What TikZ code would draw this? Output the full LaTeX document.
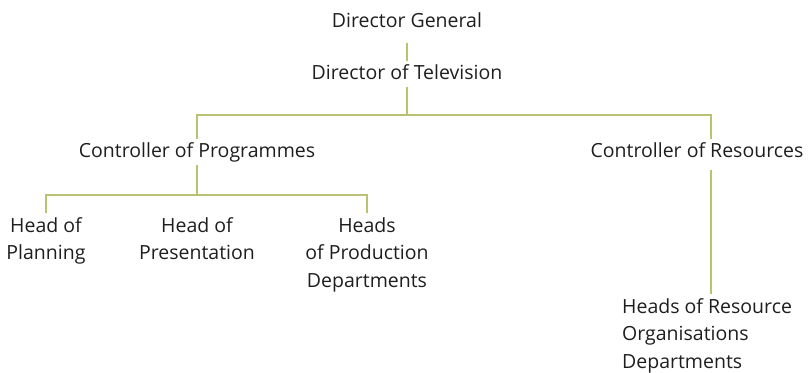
\documentclass[tikz,border=0pt]{standalone}
\usepackage{fontspec}
\setmainfont{Open Sans}
\usetikzlibrary{positioning}
\definecolor{orgline}{HTML}{BAC170}
\definecolor{orgtext}{HTML}{1E1E1E}

\begin{document}
\begin{tikzpicture}[x=1pt, y=-1pt,
    post/.style={font=\fontsize{19.5}{27.5}\selectfont, text=orgtext, align=center, anchor=north, inner xsep=0pt, inner ysep=4pt},
    onepost/.style={post, text height=14pt, text depth=4pt},
    link/.style={draw=orgline, line width=2pt},
]
\useasboundingbox (0,0) rectangle (808,372);

\node[onepost] (dg) at (407,9) {Director General};
\node[onepost] (dtv) at (407,61) {Director of Television};
\node[onepost] (cprog) at (197,139) {Controller of Programmes};
\node[onepost] (cres) at (697,139) {Controller of Resources};

\node[post] (hplan) at (46,213) {Head of\\Planning};
\node[post] (hpres) at (197,213) {Head of\\Presentation};
\node[post] (hprod) at (367,213) {Heads\\of Production\\Departments};
\node[post, anchor=north west, align=left] (hres) at (622,294) {Heads of Resource\\Organisations\\Departments};

\coordinate (rtrunk) at (711,115);
\coordinate (pbus) at (197,195);

\draw[link] ([yshift=-8pt]dg.south) -- (dtv.north);
\draw[link] (dtv.south) -- (dtv.south |- rtrunk);
\draw[link] (cprog.north) |- (rtrunk) -- (rtrunk |- cres.north);
\draw[link] ([yshift=-5pt]rtrunk |- cres.south) -- (rtrunk |- hres.north);
\draw[link] (cprog.south) -- (pbus);
\draw[link] (hplan.north) |- (pbus) -| (hprod.north);

\end{tikzpicture}
\end{document}
